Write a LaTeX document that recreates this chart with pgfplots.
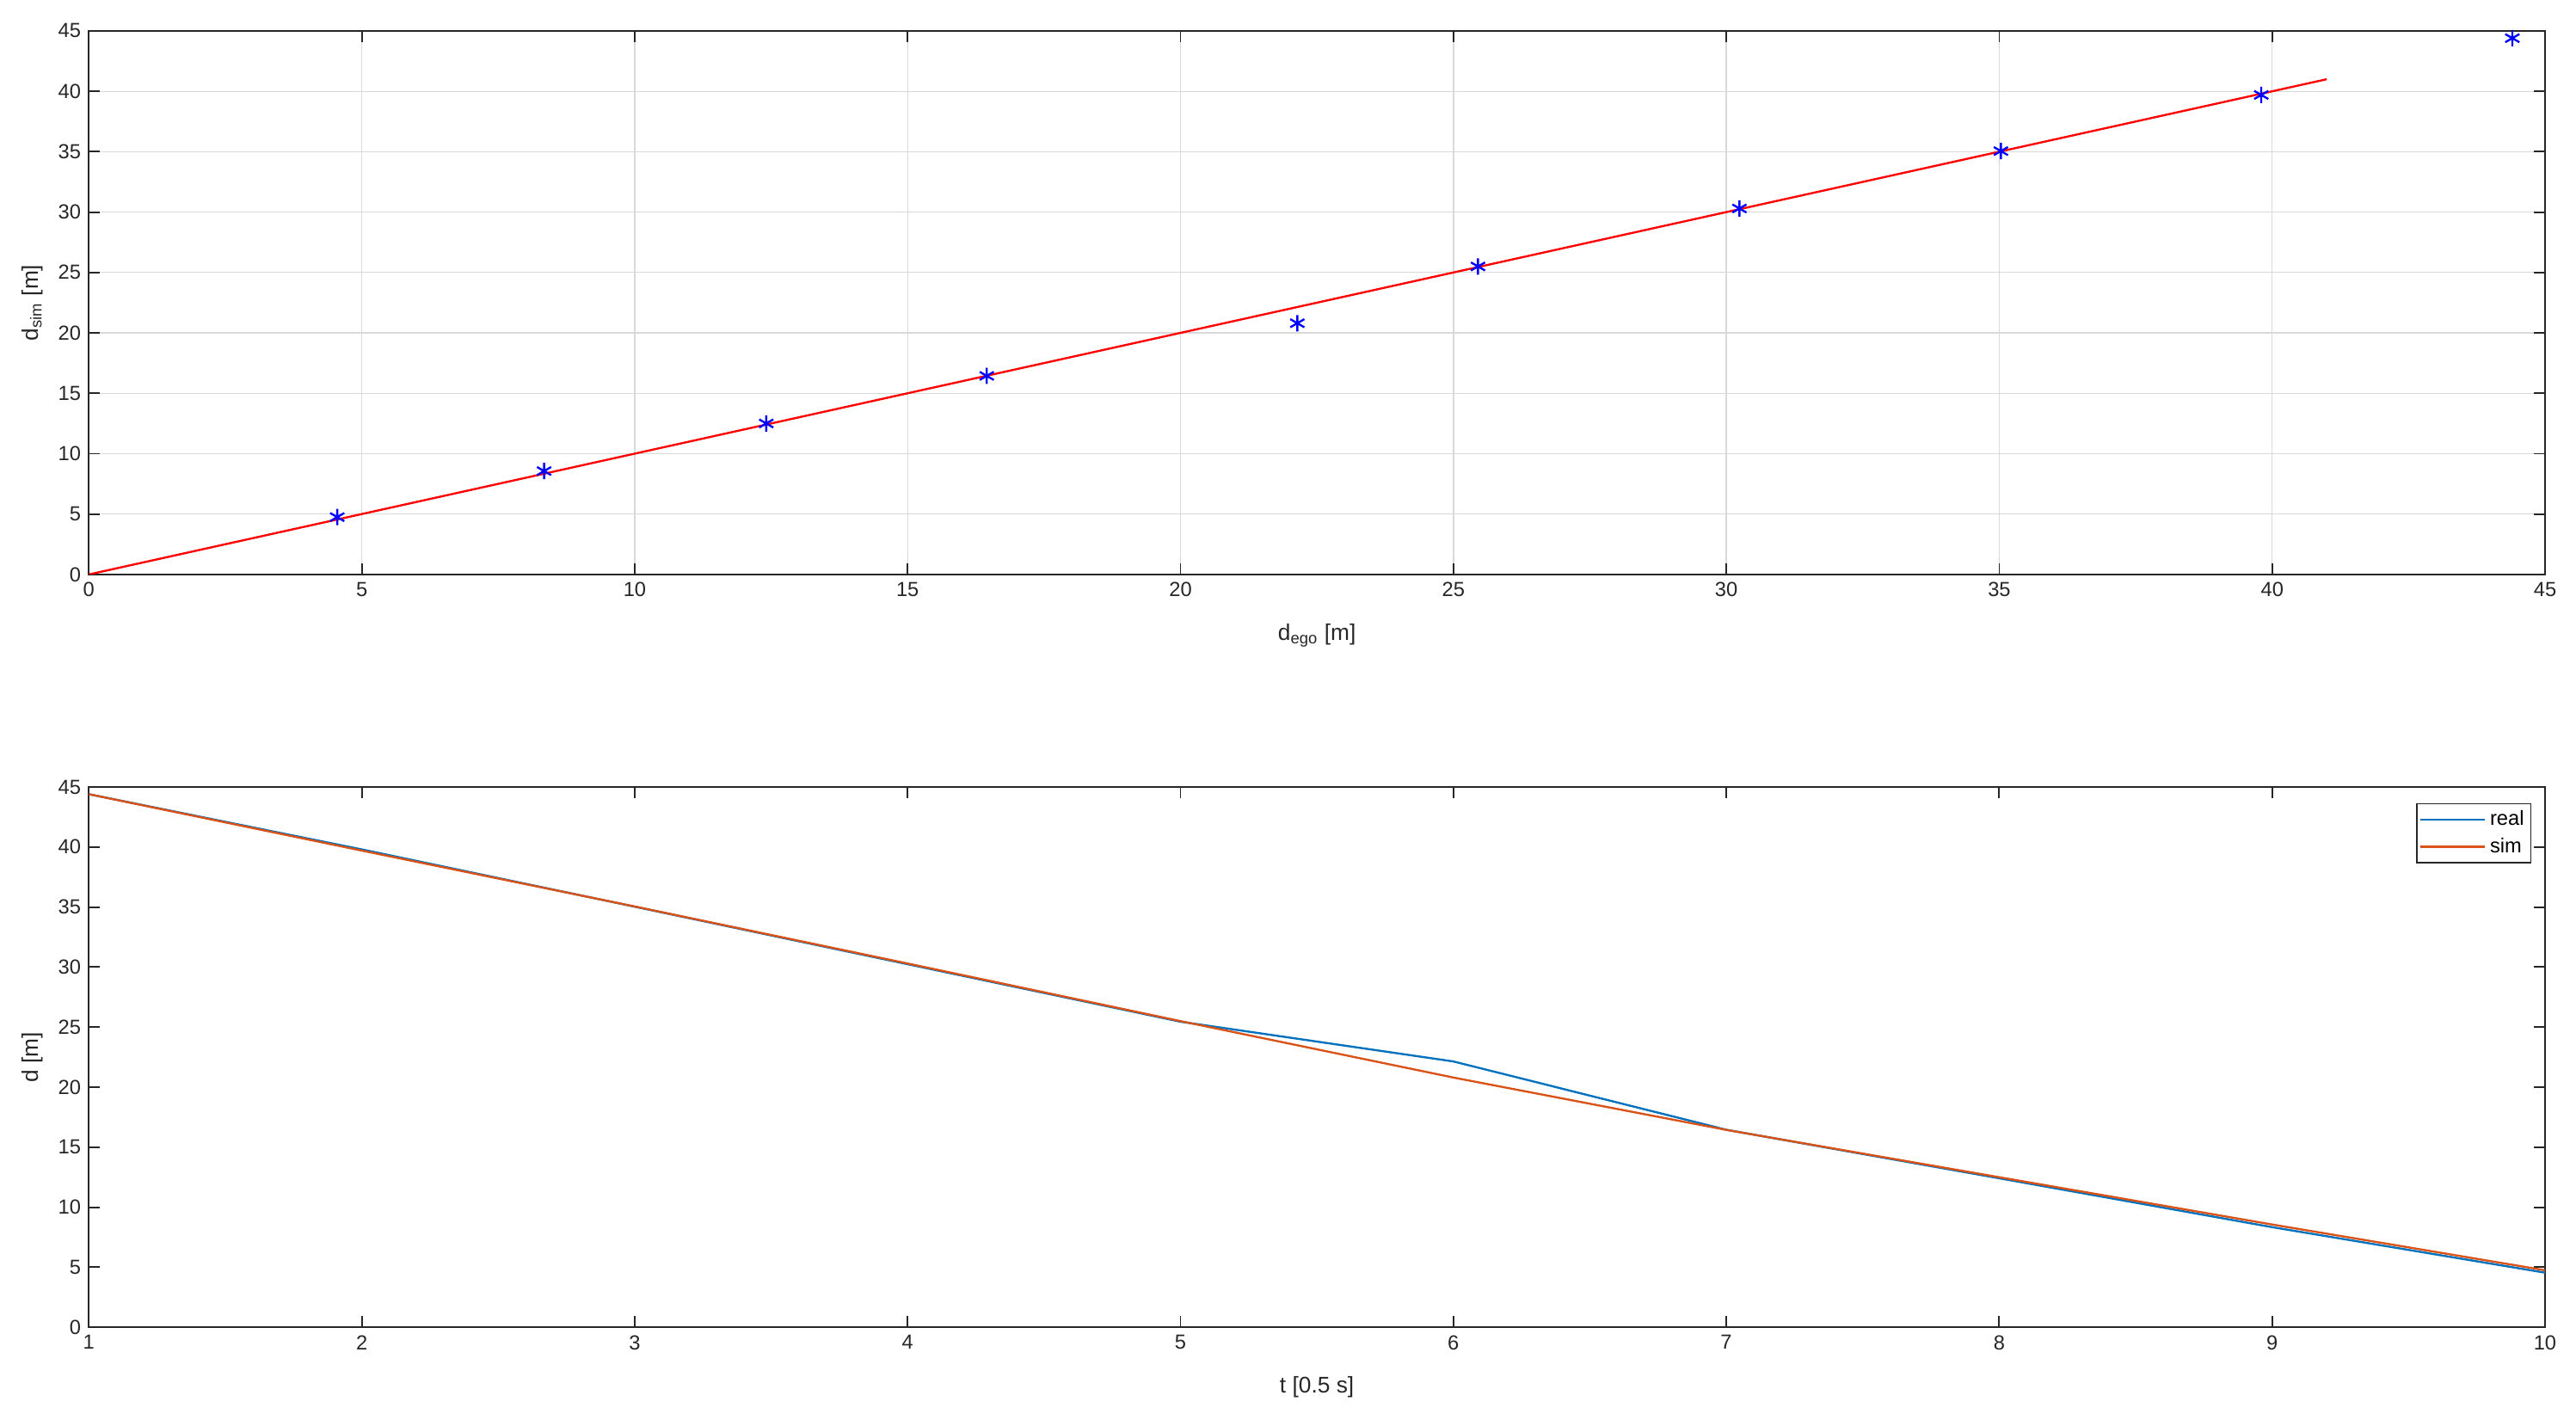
\documentclass[border=0pt]{standalone}
\usepackage{pgfplots}
\pgfplotsset{compat=1.18}
\usepackage{fontspec}
\setmainfont{Liberation Sans}
\definecolor{mblue}{rgb}{0,0.447,0.741}
\definecolor{morange}{rgb}{0.85,0.325,0.098}
\definecolor{axgray}{rgb}{0.15,0.15,0.15}
\pgfplotsset{
  mstyle/.style={
    scale only axis, width=38.14cm,
    /pgf/number format/assume math mode=true,
    axis line style={axgray, line width=0.7pt},
    tick style={axgray, line width=0.7pt},
    tick align=inside, major tick length=0.17cm,
    ticklabel style={font=\fontsize{9}{10}\selectfont, text=axgray},
    label style={font=\fontsize{10}{12}\selectfont, text=axgray},
    xlabel style={yshift=-0.18cm},
    ymin=0, ymax=45, ytick={0,5,...,45},
  }
}
\begin{document}
\begin{tikzpicture}
\useasboundingbox (-1.38cm,-13.12cm) rectangle (38.62cm,8.92cm);
\begin{axis}[mstyle, height=8.44cm,
  xmin=0, xmax=45, xtick={0,5,...,45},
  grid=major, major grid style={gray!30, line width=0.5pt},
  xlabel={d\textsubscript{ego} [m]}, ylabel={d\textsubscript{sim} [m]},
]
\addplot[red, line width=0.9pt] coordinates {(0,0) (41,41)};
\addplot[only marks, blue, mark=asterisk, mark size=3.6pt, mark options={line width=0.9pt}] coordinates {
(4.55,4.75) (8.34,8.56) (12.41,12.5) (16.45,16.44) (22.14,20.8)
(25.45,25.5) (30.24,30.3) (35.03,35.05) (39.8,39.7) (44.4,44.4)
};
\end{axis}
\begin{axis}[mstyle, height=8.39cm, at={(0,-11.69cm)},
  xmin=1, xmax=10, xtick={1,...,10},
  xlabel={t [0.5 s]}, ylabel={d [m]},
  legend style={at={(1,1)}, anchor=north east, xshift=-0.21cm, yshift=-0.25cm,
    draw=axgray, line width=0.6pt, font=\fontsize{9}{10}\selectfont,
    inner sep=1pt, row sep=0pt, cells={anchor=west}},
  legend image code/.code={\draw[#1] (0cm,0cm) -- (1.0cm,0cm);},
]
\addplot[mblue, line width=0.9pt] coordinates {
(1,44.4) (2,39.8) (3,35.03) (4,30.24) (5,25.45) (6,22.14) (7,16.45) (8,12.41) (9,8.34) (10,4.55)
};
\addlegendentry{real}
\addplot[morange, line width=0.9pt] coordinates {
(1,44.4) (2,39.7) (3,35.05) (4,30.3) (5,25.5) (6,20.8) (7,16.44) (8,12.5) (9,8.56) (10,4.75)
};
\addlegendentry{sim}
\end{axis}
\end{tikzpicture}
\end{document}
